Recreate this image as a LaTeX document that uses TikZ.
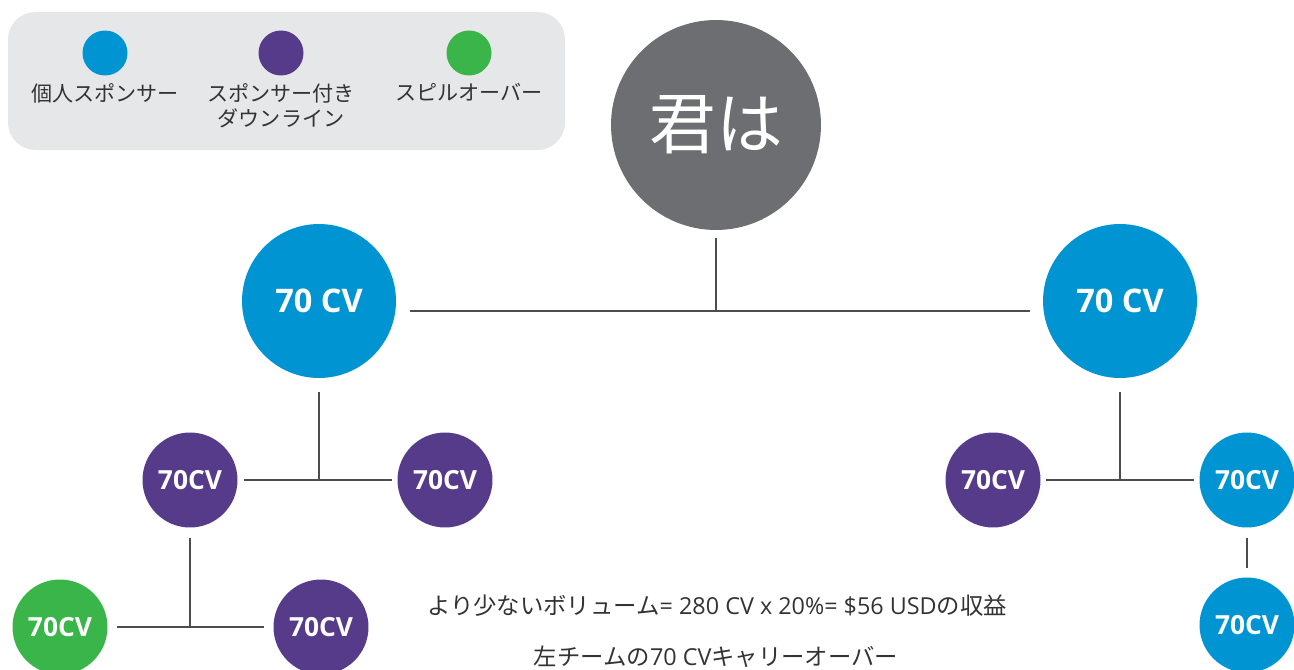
\documentclass[tikz,border=0pt]{standalone}
\usepackage{fontspec}
\setmainfont{Noto Sans CJK JP}
\newfontfamily\latinfont{Open Sans}
\usepackage{xcolor}
\usepackage{tikz}
\usetikzlibrary{positioning,calc}
\definecolor{sponsorblue}{HTML}{0194D3}
\definecolor{downpurple}{HTML}{553B8A}
\definecolor{spillgreen}{HTML}{3AB54A}
\definecolor{yougray}{HTML}{6D6E71}
\definecolor{legendgray}{HTML}{E6E7E8}
\definecolor{linegray}{HTML}{4D4D4F}
\definecolor{textgray}{HTML}{333333}

\begin{document}
\begin{tikzpicture}[x=0.02cm, y=-0.02cm,
    bubble/.style={circle, inner sep=0pt, text=white},
    bigcv/.style={bubble, minimum size=3.08cm, font=\latinfont\bfseries\fontsize{18.5}{18.5}\selectfont},
    smallcv/.style={bubble, minimum size=1.9cm, font=\latinfont\bfseries\fontsize{15}{15}\selectfont},
    keydot/.style={circle, inner sep=0pt, minimum size=0.9cm},
    keytext/.style={anchor=north, align=center, inner sep=0pt, text=textgray, font=\fontsize{12}{14.5}\selectfont},
    note/.style={inner sep=0pt, text=textgray, font=\fontsize{13.3}{15}\selectfont},
    link/.style={draw=linegray, line width=0.8pt}]
    \useasboundingbox (0,0) rectangle (1294,669);

    % Legend
    \fill[legendgray, rounded corners=0.55cm] (8,12) rectangle (565,150);
    \node[keydot, fill=sponsorblue] (keyblue) at (105,53) {};
    \node[keydot, fill=downpurple] (keypurple) at (281,53) {};
    \node[keydot, fill=spillgreen] (keygreen) at (469,53) {};
    \node[keytext] (keybluetext) at (105,83) {個人スポンサー};
    \node[keytext] (keypurpletext) at (281,83) {スポンサー付き\\ダウンライン};
    \node[keytext] (keygreentext) at (469,83) {スピルオーバー};

    % You and first level
    \node[bubble, fill=yougray, minimum size=4.2cm, font=\fontsize{38}{38}\selectfont] (you) at (716,125) {君は};
    \node[bigcv, fill=sponsorblue] (lsp) at (319,301) {70 CV};
    \node[bigcv, fill=sponsorblue] (rsp) at (1120,301) {70 CV};
    \coordinate (top) at (716,311);
    \draw[link, shorten <=4.5pt] (you.south) -- (top);
    \draw[link, shorten <=8pt, shorten >=7.5pt] (lsp.east |- top) -- (rsp.west |- top);

    % Left leg
    \node[smallcv, fill=downpurple] (ld1) at (190,480) {70CV};
    \node[smallcv, fill=downpurple] (ld2) at (445,480) {70CV};
    \node[smallcv, fill=spillgreen] (lsp1) at (60,627) {70CV};
    \node[smallcv, fill=downpurple] (ld3) at (321,627) {70CV};
    \draw[link, shorten <=8pt] (lsp.south) -- (lsp.south |- ld1.east);
    \draw[link, shorten <=3.5pt, shorten >=3pt] (ld1.east) -- (ld2.west);
    \draw[link, shorten <=6pt] (ld1.south) -- (ld1.south |- lsp1.east);
    \draw[link, shorten <=5pt, shorten >=5pt] (lsp1.east) -- (ld3.west);

    % Right leg
    \node[smallcv, fill=downpurple] (rd1) at (993,480) {70CV};
    \node[smallcv, fill=sponsorblue] (rsp2) at (1247,480) {70CV};
    \node[smallcv, fill=sponsorblue] (rsp3) at (1247,625) {70CV};
    \draw[link, shorten <=8pt] (rsp.south) -- (rsp.south |- rd1.east);
    \draw[link, shorten <=3pt, shorten >=3pt] (rd1.east) -- (rsp2.west);
    \draw[link, shorten <=6pt, shorten >=5pt] (rsp2.south) -- (rsp3.north);

    % Notes
    \node[note] (gain) at (717,606) {より少ないボリューム{\latinfont = 280 CV x 20\%= \$56 USD}の収益};
    \node[note] (carry) at (716,657) {左チームの{\latinfont 70 CV}キャリーオーバー};
\end{tikzpicture}
\end{document}
